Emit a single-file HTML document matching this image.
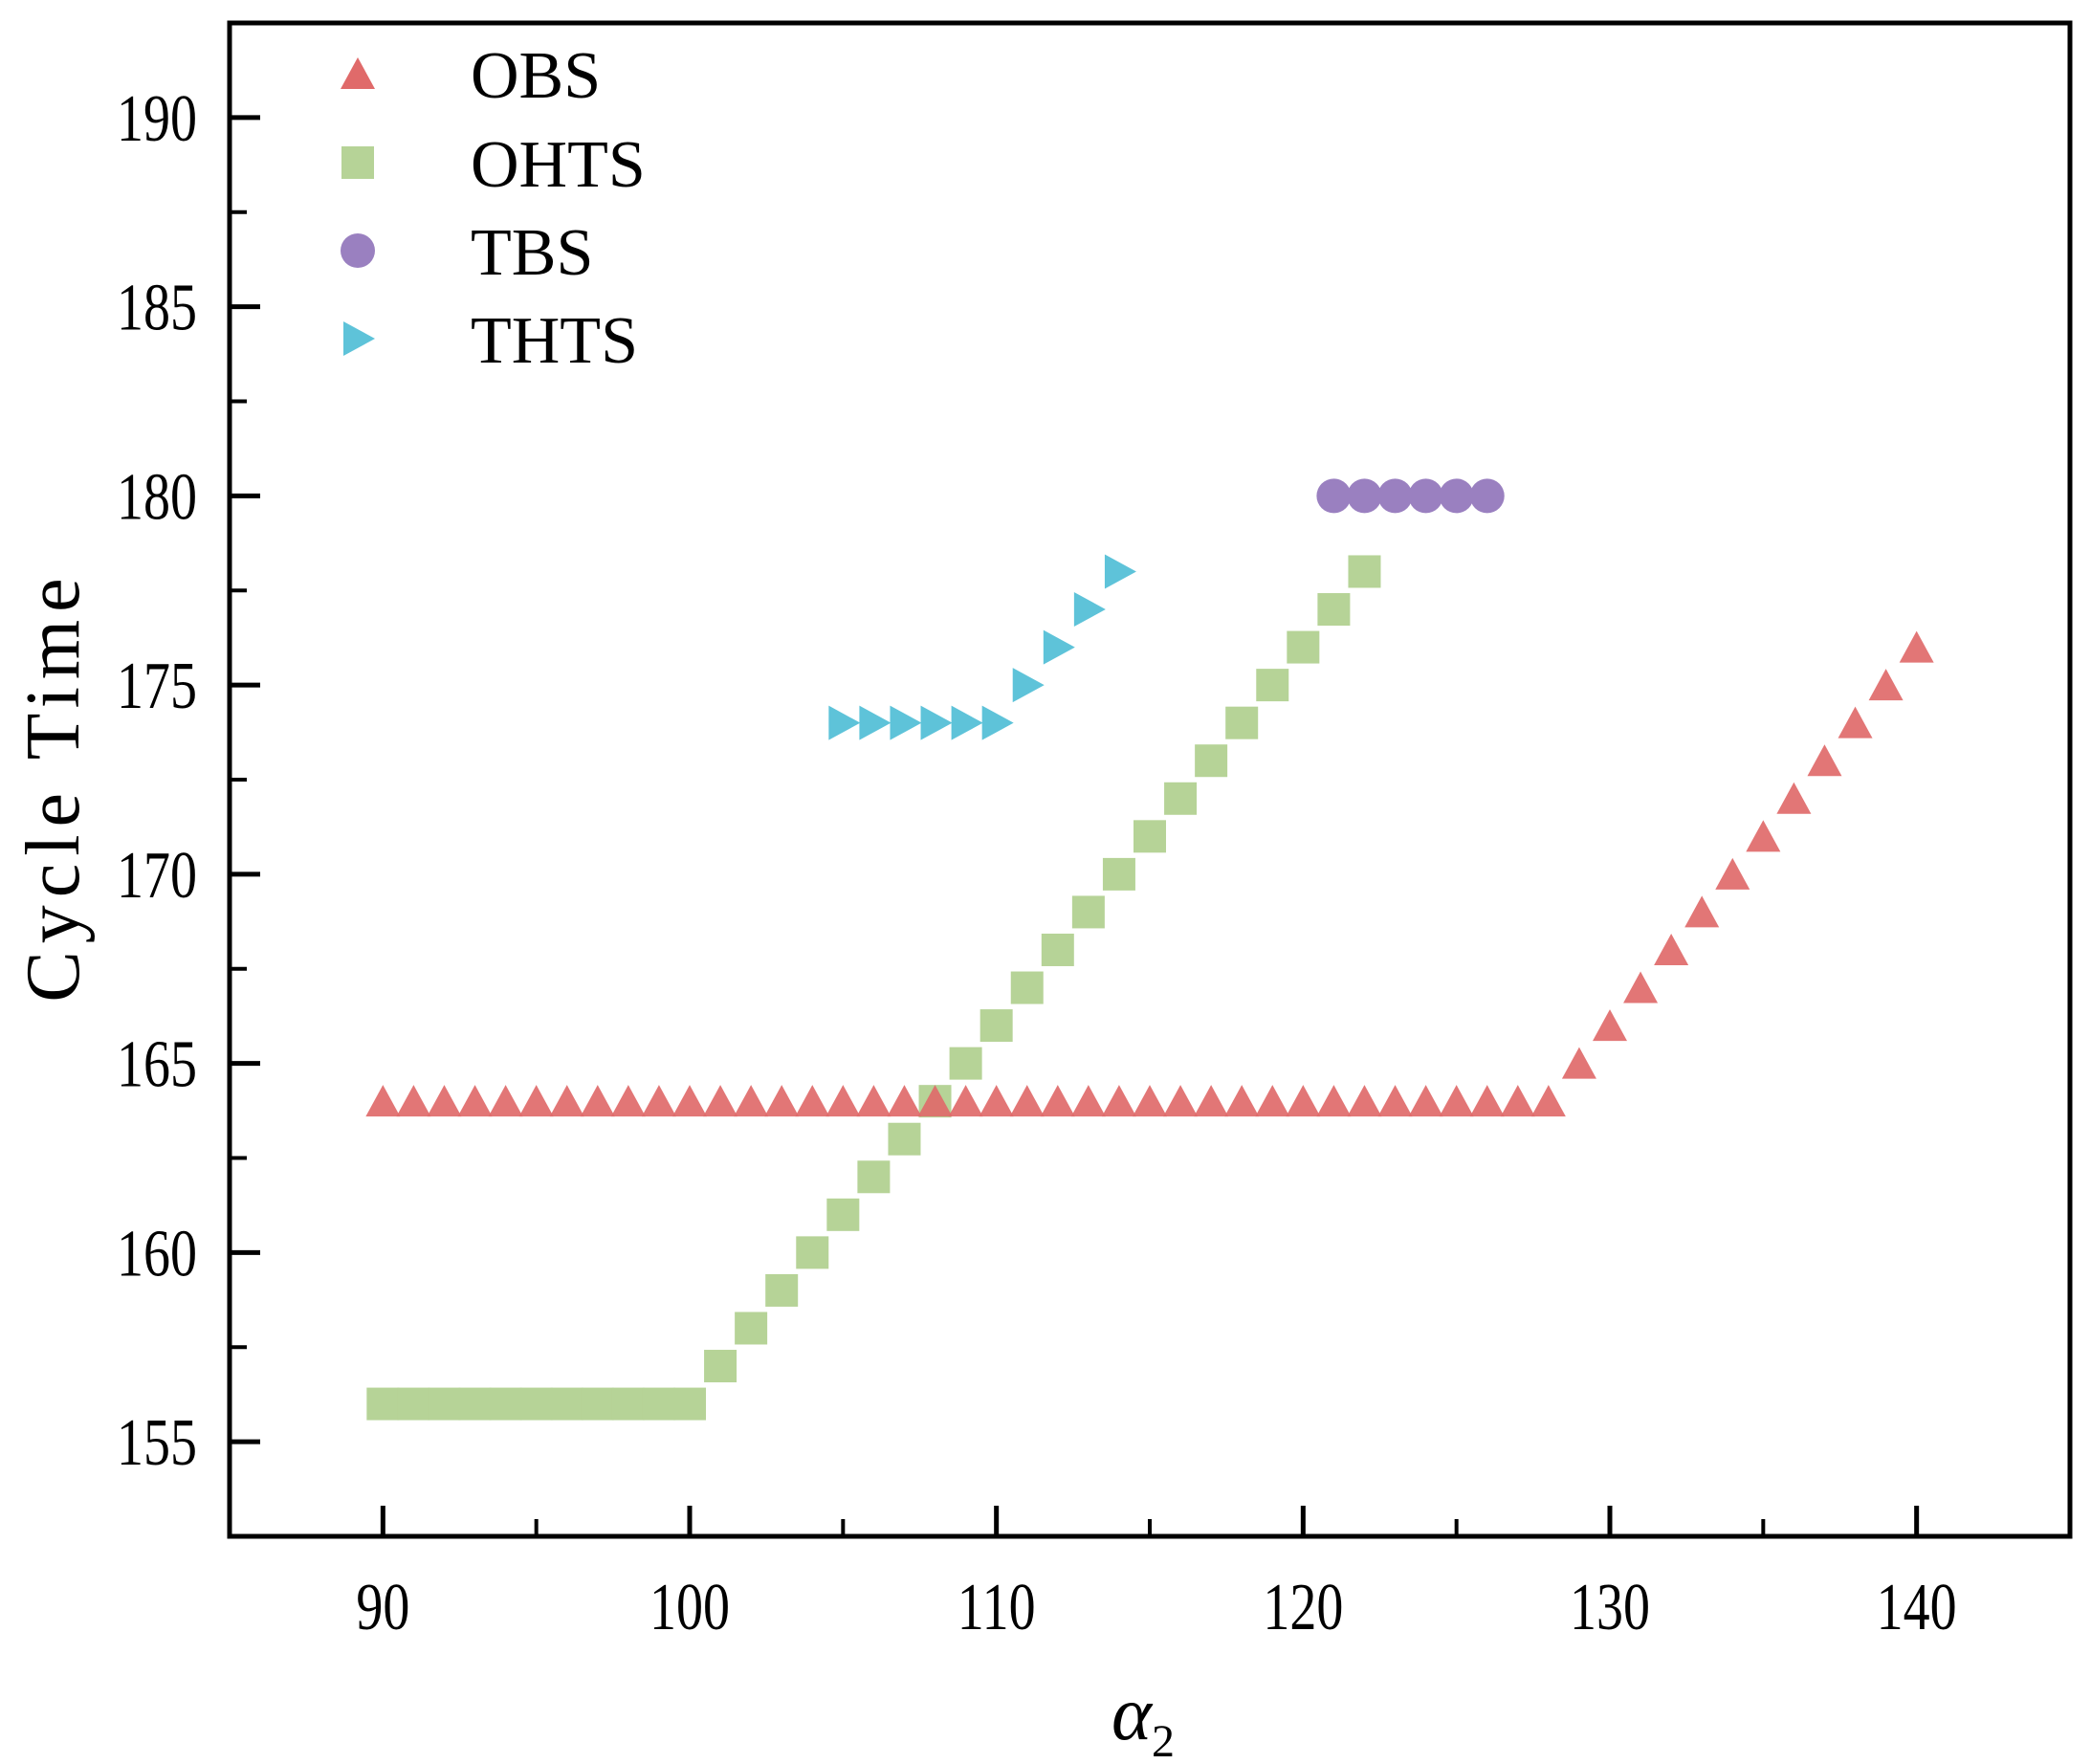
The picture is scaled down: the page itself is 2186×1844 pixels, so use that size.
<!DOCTYPE html>
<html><head><meta charset="utf-8"><style>
html,body{margin:0;padding:0;background:#fff;}
svg{display:block;}
text{font-family:"Liberation Serif",serif;fill:#000;}
</style></head><body>
<svg id="chart" width="2186" height="1844" viewBox="0 0 2186 1844">
<g id="plot"></g>
<g id="axes"></g>
<g id="legend"></g>
</svg>
<script>
const obsX=[90,91,92,93,94,95,96,97,98,99,100,101,102,103,104,105,106,107,108,109,110,111,112,113,114,115,116,117,118,119,120,121,122,123,124,125,126,127,128,129,130,131,132,133,134,135,136,137,138,139,140];
const obsY=[164,164,164,164,164,164,164,164,164,164,164,164,164,164,164,164,164,164,164,164,164,164,164,164,164,164,164,164,164,164,164,164,164,164,164,164,164,164,164,165,166,167,168,169,170,171,172,173,174,175,176];
const ohtsX=[90,91,92,93,94,95,96,97,98,99,100,101,102,103,104,105,106,107,108,109,110,111,112,113,114,115,116,117,118,119,120,121,122];
const ohtsY=[156,156,156,156,156,156,156,156,156,156,156,157,158,159,160,161,162,163,164,165,166,167,168,169,170,171,172,173,174,175,176,177,178];
const tbsX=[121,122,123,124,125,126];
const tbsY=[180,180,180,180,180,180];
const thtsX=[105,106,107,108,109,110,111,112,113,114];
const thtsY=[174,174,174,174,174,174,175,176,177,178];
const xTicks=[90,100,110,120,130,140];
const yTicks=[155,160,165,170,175,180,185,190];
const legendLabels=["OBS","OHTS","TBS","THTS"];

const L=240,R=2164,T=24,B=1606;
const xMin=85,xMax=145,yMin=152.5,yMax=192.5;
const sx=v=>L+(v-xMin)/(xMax-xMin)*(R-L);
const sy=v=>B-(v-yMin)/(yMax-yMin)*(B-T);
const NS="http://www.w3.org/2000/svg";
function mk(tag,attrs,parent){const e=document.createElementNS(NS,tag);for(const k in attrs)e.setAttribute(k,attrs[k]);parent.appendChild(e);return e;}
const plot=document.getElementById('plot'),axes=document.getElementById('axes'),legend=document.getElementById('legend');
const colors={obs:"#e06a6a",ohts:"#b6d397",tbs:"#9a80c0",thts:"#5ec3d9"};

function tri(cx,cy,p,c){return mk('polygon',{points:`${cx-18},${cy+16} ${cx+18},${cy+16} ${cx},${cy-17}`,fill:c},p);}
function sq(cx,cy,p,c){return mk('rect',{x:cx-17,y:cy-17,width:34,height:34,fill:c},p);}
function circ(cx,cy,p,c){return mk('circle',{cx:cx,cy:cy,r:18,fill:c},p);}
function rtri(cx,cy,p,c){return mk('polygon',{points:`${cx-15},${cy-18} ${cx-15},${cy+18} ${cx+18},${cy}`,fill:c},p);}

ohtsX.forEach((x,i)=>{const e=sq(sx(x),sy(ohtsY[i]),plot,colors.ohts);

});
obsX.forEach((x,i)=>{const e=tri(sx(x),sy(obsY[i]),plot,colors.obs);e.setAttribute('opacity','0.92');

});
tbsX.forEach((x,i)=>{const e=circ(sx(x),sy(tbsY[i]),plot,colors.tbs);

});
thtsX.forEach((x,i)=>{const e=rtri(sx(x),sy(thtsY[i]),plot,colors.thts);

});

const fr=mk('rect',{x:L,y:T,width:R-L,height:B-T,fill:'none',stroke:'#000','stroke-width':5},axes);


xTicks.forEach(v=>{const x=sx(v);
mk('line',{x1:x,y1:B,x2:x,y2:B-32,stroke:'#000','stroke-width':5},axes);
const m=sx(v+5);if(v+5<xMax)mk('line',{x1:m,y1:B,x2:m,y2:B-18,stroke:'#000','stroke-width':4},axes);
const t=mk('text',{x:x,y:1703,'font-size':70,'text-anchor':'middle',transform:`translate(${x},0) scale(0.8,1) translate(${-x},0)`},axes);t.textContent=v;

});
yTicks.forEach(v=>{const y=sy(v);
mk('line',{x1:L,y1:y,x2:L+32,y2:y,stroke:'#000','stroke-width':5},axes);
const m=sy(v+2.5);if(v+2.5<yMax)mk('line',{x1:L,y1:m,x2:L+18,y2:m,stroke:'#000','stroke-width':4},axes);
const t=mk('text',{x:206,y:y+24,'font-size':70,'text-anchor':'end',transform:`translate(206,0) scale(0.8,1) translate(-206,0)`},axes);t.textContent=v;

});
const xt=mk('text',{x:1195,y:1818,'font-size':80,'font-style':'italic','text-anchor':'middle'},axes);
xt.innerHTML='α<tspan font-size="48" dy="18" font-style="normal">2</tspan>';


const yt=mk('text',{x:0,y:0,'font-size':80,'text-anchor':'middle','letter-spacing':8,transform:'translate(82,822) rotate(-90)'},axes);
yt.textContent='Cycle Time';


const shapes=[tri,sq,circ,rtri],lc=[colors.obs,colors.ohts,colors.tbs,colors.thts],ly=[77,170,262,354];
legendLabels.forEach((lab,i)=>{const g=mk('g',{},legend);


shapes[i](374,ly[i],g,lc[i]);
const t=mk('text',{x:492,y:ly[i]+25,'font-size':70},g);t.textContent=lab;});
</script>
</body></html>
